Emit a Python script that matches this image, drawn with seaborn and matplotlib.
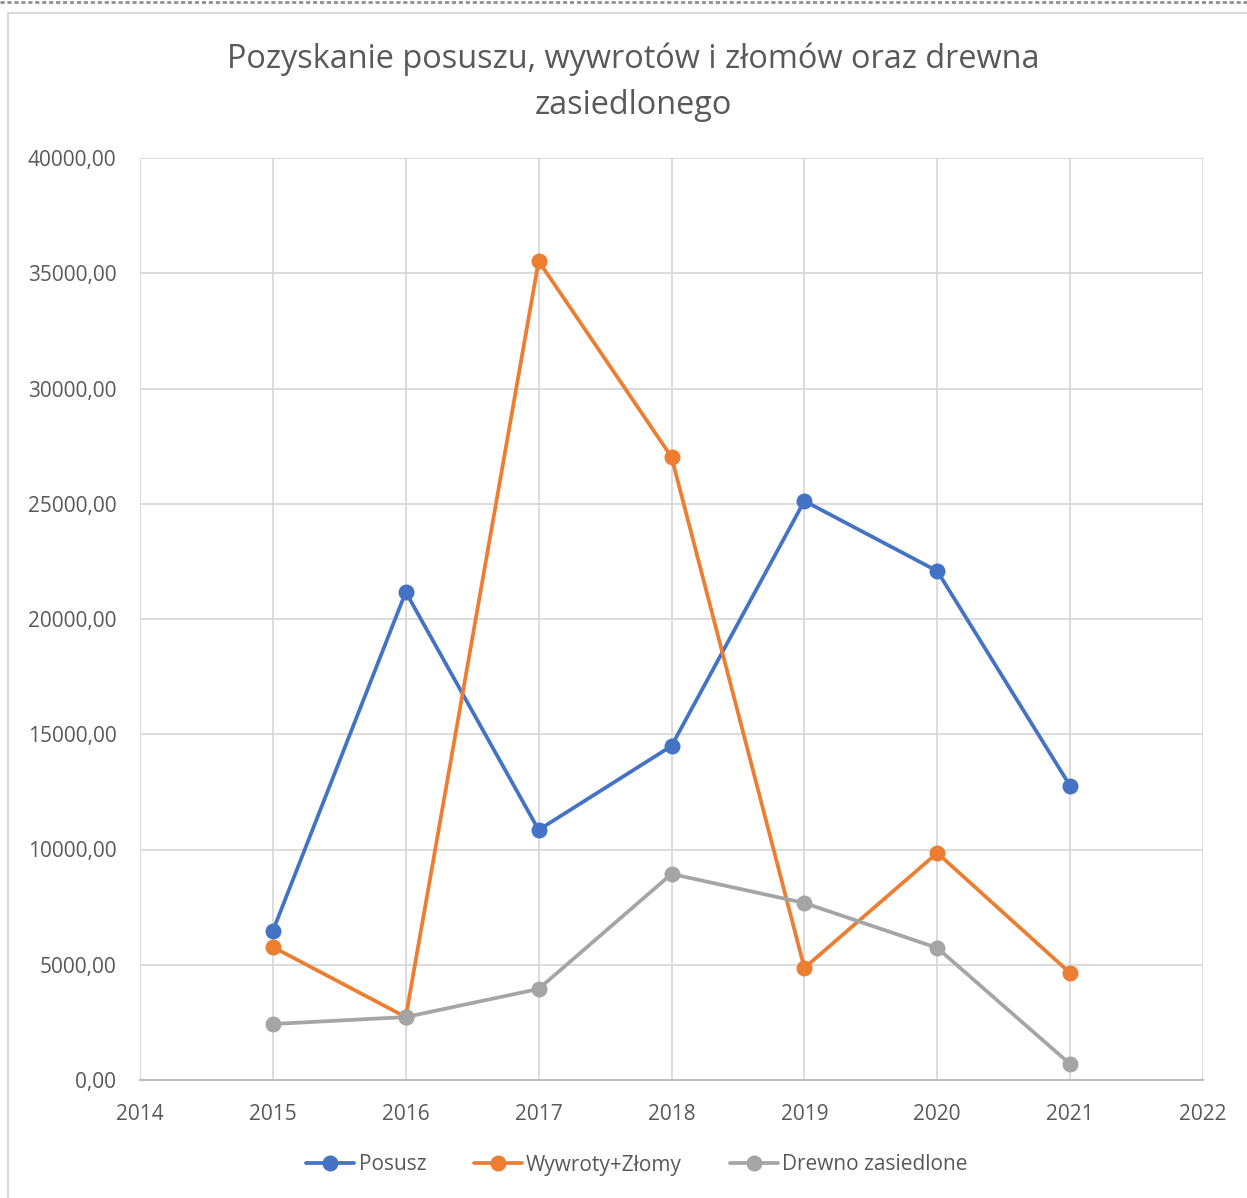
import matplotlib
matplotlib.use('Agg')
import matplotlib.pyplot as plt
from matplotlib.patches import Rectangle
from matplotlib.ticker import FuncFormatter, MultipleLocator
from matplotlib.lines import Line2D
import seaborn as sns
import pandas as pd

# data
years = [2015, 2016, 2017, 2018, 2019, 2020, 2021]
posusz = [6470, 21170, 10850, 14490, 25120, 22080, 12760]
wywroty = [5770, 2730, 35530, 27030, 4860, 9850, 4640]
drewno = [2430, 2730, 3950, 8940, 7680, 5730, 690]
series_names = ['Posusz', 'Wywroty+Złomy', 'Drewno zasiedlone']
colors = ['#4472C4', '#ED7D31', '#A5A5A5']

df = pd.DataFrame({
    'rok': years * 3,
    'wartosc': posusz + wywroty + drewno,
    'seria': [series_names[0]] * 7 + [series_names[1]] * 7 + [series_names[2]] * 7,
})

sns.set_theme(style='white')
plt.rcParams['font.family'] = ['Open Sans', 'DejaVu Sans']
text_col = '#595959'

fig = plt.figure(figsize=(12.47, 11.98), dpi=100)
ax = fig.add_axes([140 / 1247, 1 - 1080 / 1198, (1203 - 140) / 1247, (1080 - 158) / 1198])

# outer chart border
fig.patches.append(Rectangle((8 / 1247, -0.05), 1.1, 1 - 13 / 1198 + 0.05,
                             transform=fig.transFigure, fill=False,
                             edgecolor='#D9D9D9', linewidth=1.5))
fig.add_artist(Line2D([0, 1], [1 - 2 / 1198] * 2, transform=fig.transFigure,
                      color='#909090', linewidth=2, linestyle=(0, (1.5, 1))))

sns.lineplot(data=df, x='rok', y='wartosc', hue='seria', palette=colors,
             marker='o', markersize=11.5, markeredgewidth=0, linewidth=2.7,
             ax=ax, legend=False)

ax.set_xlim(2014, 2022)
ax.set_ylim(0, 40000)
ax.xaxis.set_major_locator(MultipleLocator(1))
ax.yaxis.set_major_locator(MultipleLocator(5000))
ax.yaxis.set_major_formatter(FuncFormatter(lambda v, p: f'{v:.2f}'.replace('.', ',')))
ax.grid(True, color='#D9D9D9', linewidth=1.3)
ax.set_axisbelow(True)
for s in ['left', 'top', 'right']:
    ax.spines[s].set_visible(False)
ax.spines['bottom'].set_color('#BFBFBF')
ax.spines['bottom'].set_linewidth(1.5)
ax.tick_params(axis='both', length=0, labelsize=15, labelcolor=text_col)
ax.tick_params(axis='x', pad=17)
ax.tick_params(axis='y', pad=17)
ax.set_xlabel('')
ax.set_ylabel('')

fig.text(633 / 1247, 1 - 82 / 1198,
         'Pozyskanie posuszu, wywrotów i złomów oraz drewna\nzasiedlonego',
         ha='center', va='center', fontsize=23.4, color=text_col, linespacing=1.5)

handles = [Line2D([], [], color=c, marker='o', markersize=11.5, markeredgewidth=0,
                  linewidth=2.7) for c in colors]
fig.legend(handles, series_names, loc='center', bbox_to_anchor=(637 / 1247, 1 - 1165 / 1198),
           ncol=3, frameon=False, fontsize=15, labelcolor=text_col,
           handlelength=2.3, handletextpad=0.2, columnspacing=2.3)

fig.savefig('out.png', dpi=100)
